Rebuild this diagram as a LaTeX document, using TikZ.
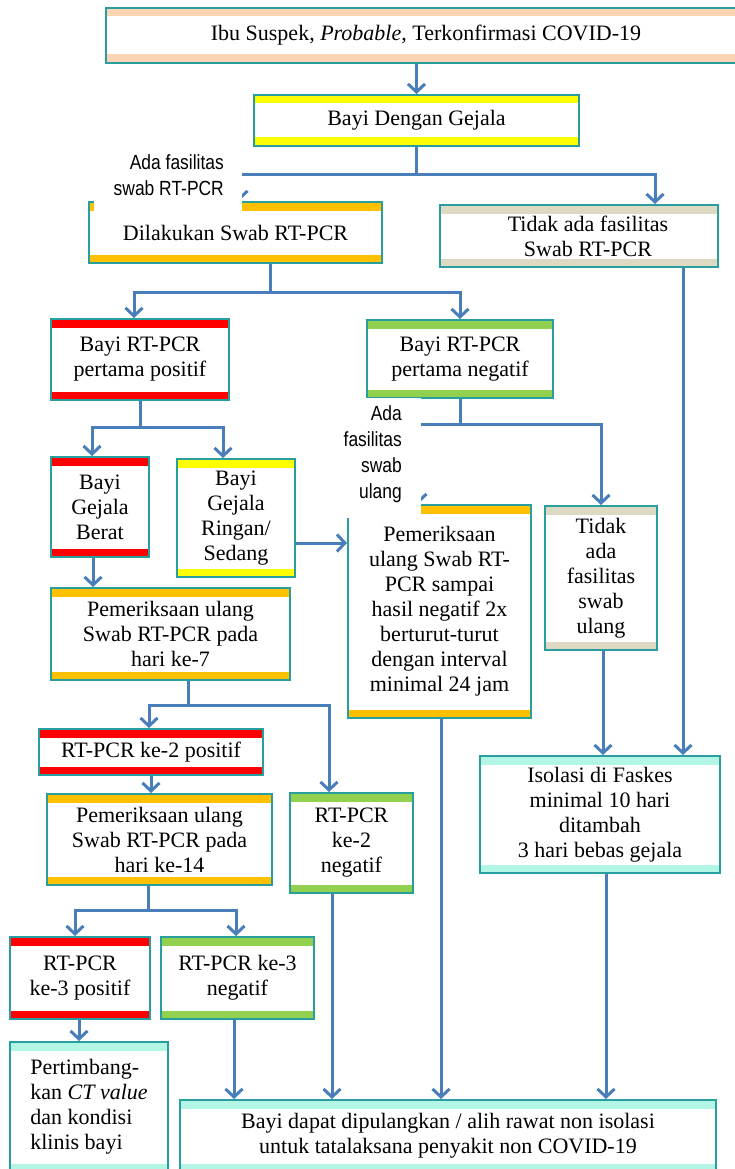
\documentclass[tikz,border=0pt]{standalone}
\usepackage{fontspec}
\setmainfont{Liberation Serif}
\newfontfamily\arialf[FakeStretch=0.85]{Liberation Sans}
\usetikzlibrary{arrows.meta,calc}
\definecolor{tealb}{RGB}{40,158,158}
\definecolor{connb}{RGB}{74,126,187}
\definecolor{bpeach}{RGB}{251,212,180}
\definecolor{byellow}{RGB}{255,255,0}
\definecolor{borange}{RGB}{255,192,0}
\definecolor{bred}{RGB}{255,0,0}
\definecolor{bgreen}{RGB}{146,208,80}
\definecolor{bbeige}{RGB}{221,217,195}
\definecolor{bcyan}{RGB}{180,246,230}
\newcommand\bodyf{\fontsize{22}{25}\selectfont}
\newcommand\labf{\arialf\fontsize{20.5}{26}\selectfont}
\tikzset{
  bx/.style={draw=tealb, line width=2pt, fill=white, inner sep=0pt, align=center, font=\bodyf,
    path picture={
      \fill[#1] (path picture bounding box.north west) rectangle ([yshift=-8.5pt]path picture bounding box.north east);
      \fill[#1] (path picture bounding box.south west) rectangle ([yshift=8.5pt]path picture bounding box.south east);}},
  conn/.style={draw=connb, line width=3pt},
  arr/.style={conn, -{Straight Barb[length=8pt,width=17pt]}},
  lab/.style={font=\labf, align=right, inner sep=0pt, anchor=east}
}
\begin{document}
\begin{tikzpicture}[x=1pt,y=-1pt]
\useasboundingbox (0,0) rectangle (734,1169);
% boxes
\node[bx=bpeach, minimum width=640pt, minimum height=55pt] (top) at (426,35.5) {Ibu Suspek, \textit{Probable}, Terkonfirmasi COVID-19};
\node[bx=byellow, minimum width=325pt, minimum height=51pt] (gejala) at (416.5,120.5) {Bayi Dengan Gejala};
\node[bx=borange, minimum width=293pt, minimum height=61pt] (dilakukan) at (235.5,232.5) {Dilakukan Swab RT-PCR};
\node[bx=bbeige, minimum width=278pt, minimum height=62pt] (tidakrt) at (579,236) {\hspace*{18pt}Tidak ada fasilitas\\\hspace*{18pt}Swab RT-PCR};
\node[bx=bred, minimum width=178pt, minimum height=81pt] (pos1) at (140,359.5) {Bayi RT-PCR\\pertama positif};
\node[bx=bgreen, minimum width=186pt, minimum height=78pt] (neg1) at (460,359) {Bayi RT-PCR\\pertama negatif};
\node[bx=bred, minimum width=98pt, minimum height=100pt] (berat) at (100,507) {Bayi\\Gejala\\Berat};
\node[bx=byellow, minimum width=118pt, minimum height=118pt] (ringan) at (236,518) {Bayi\\Gejala\\Ringan/\\Sedang};
\node[bx=borange, minimum width=183pt, minimum height=213pt] (ulang) at (439.5,611.5) {Pemeriksaan\\ulang Swab RT-\\PCR sampai\\hasil negatif 2x\\berturut-turut\\dengan interval\\minimal 24 jam};
\node[bx=bbeige, minimum width=112pt, minimum height=144pt] (tidakswab) at (601,578) {Tidak\\ada\\fasilitas\\swab\\ulang};
\node[bx=borange, minimum width=239pt, minimum height=92pt] (p7) at (170.5,634) {Pemeriksaan ulang\\Swab RT-PCR pada\\hari ke-7};
\node[bx=bred, minimum width=224pt, minimum height=46pt] (pos2) at (151,752) {RT-PCR ke-2 positif};
\node[bx=borange, minimum width=225pt, minimum height=91pt] (p14) at (159.5,839.5) {Pemeriksaan ulang\\Swab RT-PCR pada\\hari ke-14};
\node[bx=bgreen, minimum width=123pt, minimum height=100pt] (neg2) at (351.5,843) {RT-PCR\\ke-2\\negatif};
\node[bx=bcyan, minimum width=240pt, minimum height=117pt] (isolasi) at (600,814.5) {Isolasi di Faskes\\minimal 10 hari\\ditambah\\3 hari bebas gejala};
\node[bx=bred, minimum width=140pt, minimum height=82pt] (pos3) at (80,978) {RT-PCR\\ke-3 positif};
\node[bx=bgreen, minimum width=153pt, minimum height=82pt] (neg3) at (237.5,978) {RT-PCR ke-3\\negatif};
\node[bx=bcyan, minimum width=158pt, minimum height=130pt, align=left] (pert) at (89,1107) {Pertimbang-\\kan \textit{CT value}\\dan kondisi\\klinis bayi};
\node[bx=bcyan, minimum width=536pt, minimum height=72pt] (bottom) at (448,1136) {Bayi dapat dipulangkan / alih rawat non isolasi\\untuk tatalaksana penyakit non COVID-19};
% junctions
\coordinate (j1) at (416.5,175);
\coordinate (j2) at (270,292);
\coordinate (j3) at (140,427);
\coordinate (j4) at (460,424);
\coordinate (j5) at (188,705);
\coordinate (j6) at (148,910);
% connectors
\draw[arr] (top.south -| gejala.north) -- (gejala.north);
\draw[conn] (gejala.south) -- (j1);
\draw[arr] (j1) -| (dilakukan.north -| 239,0);
\draw[arr] (j1) -| (tidakrt.north -| 655,0);
\draw[conn] (dilakukan.south -| j2) -- (j2);
\draw[arr] (j2) -| (pos1.north -| 134,0);
\draw[arr] (j2) -| (neg1.north);
\draw[arr] (tidakrt.south -| 683,0) -- (isolasi.north -| 683,0);
\draw[conn] (pos1.south) -- (j3);
\draw[arr] (j3) -| (berat.north -| 92,0);
\draw[arr] (j3) -| (ringan.north -| 223,0);
\draw[conn] (neg1.south) -- (j4);
\draw[arr] (j4) -| (tidakswab.north);
\draw[arr] (j4) -| (ulang.north -| 418,0);
\draw[arr] (ringan.east |- 0,543) -- (ulang.west |- 0,543);
\draw[arr] (berat.south -| 93,0) -- (p7.north -| 93,0);
\draw[conn] (p7.south -| j5) -- (j5);
\draw[arr] (j5) -| (pos2.north -| 149,0);
\draw[arr] (j5) -| (neg2.north -| 329,0);
\draw[arr] (pos2.south) -- (p14.north -| pos2.south);
\draw[conn] (p14.south -| j6) -- (j6);
\draw[arr] (j6) -| (pos3.north -| 75,0);
\draw[arr] (j6) -| (neg3.north -| 236,0);
\draw[arr] (pos3.south -| 79,0) -- (pert.north -| 79,0);
\draw[arr] (tidakswab.south -| 603,0) -- (isolasi.north -| 603,0);
\draw[arr] (neg3.south -| 234,0) -- (bottom.north -| 234,0);
\draw[arr] (neg2.south -| 332,0) -- (bottom.north -| 332,0);
\draw[arr] (ulang.south -| 441,0) -- (bottom.north -| 441,0);
\draw[arr] (isolasi.south -| 606,0) -- (bottom.north -| 606,0);
% labels with white backing
\fill[white] (94,148) rectangle (241.5,211);
\node[lab] (lab1) at (224,175.5) {Ada fasilitas\\swab RT-PCR};
\fill[white] (330,398) rectangle (421,518);
\node[lab] (lab2) at (402,454.5) {Ada\\fasilitas\\swab\\ulang};
\end{tikzpicture}
\end{document}
